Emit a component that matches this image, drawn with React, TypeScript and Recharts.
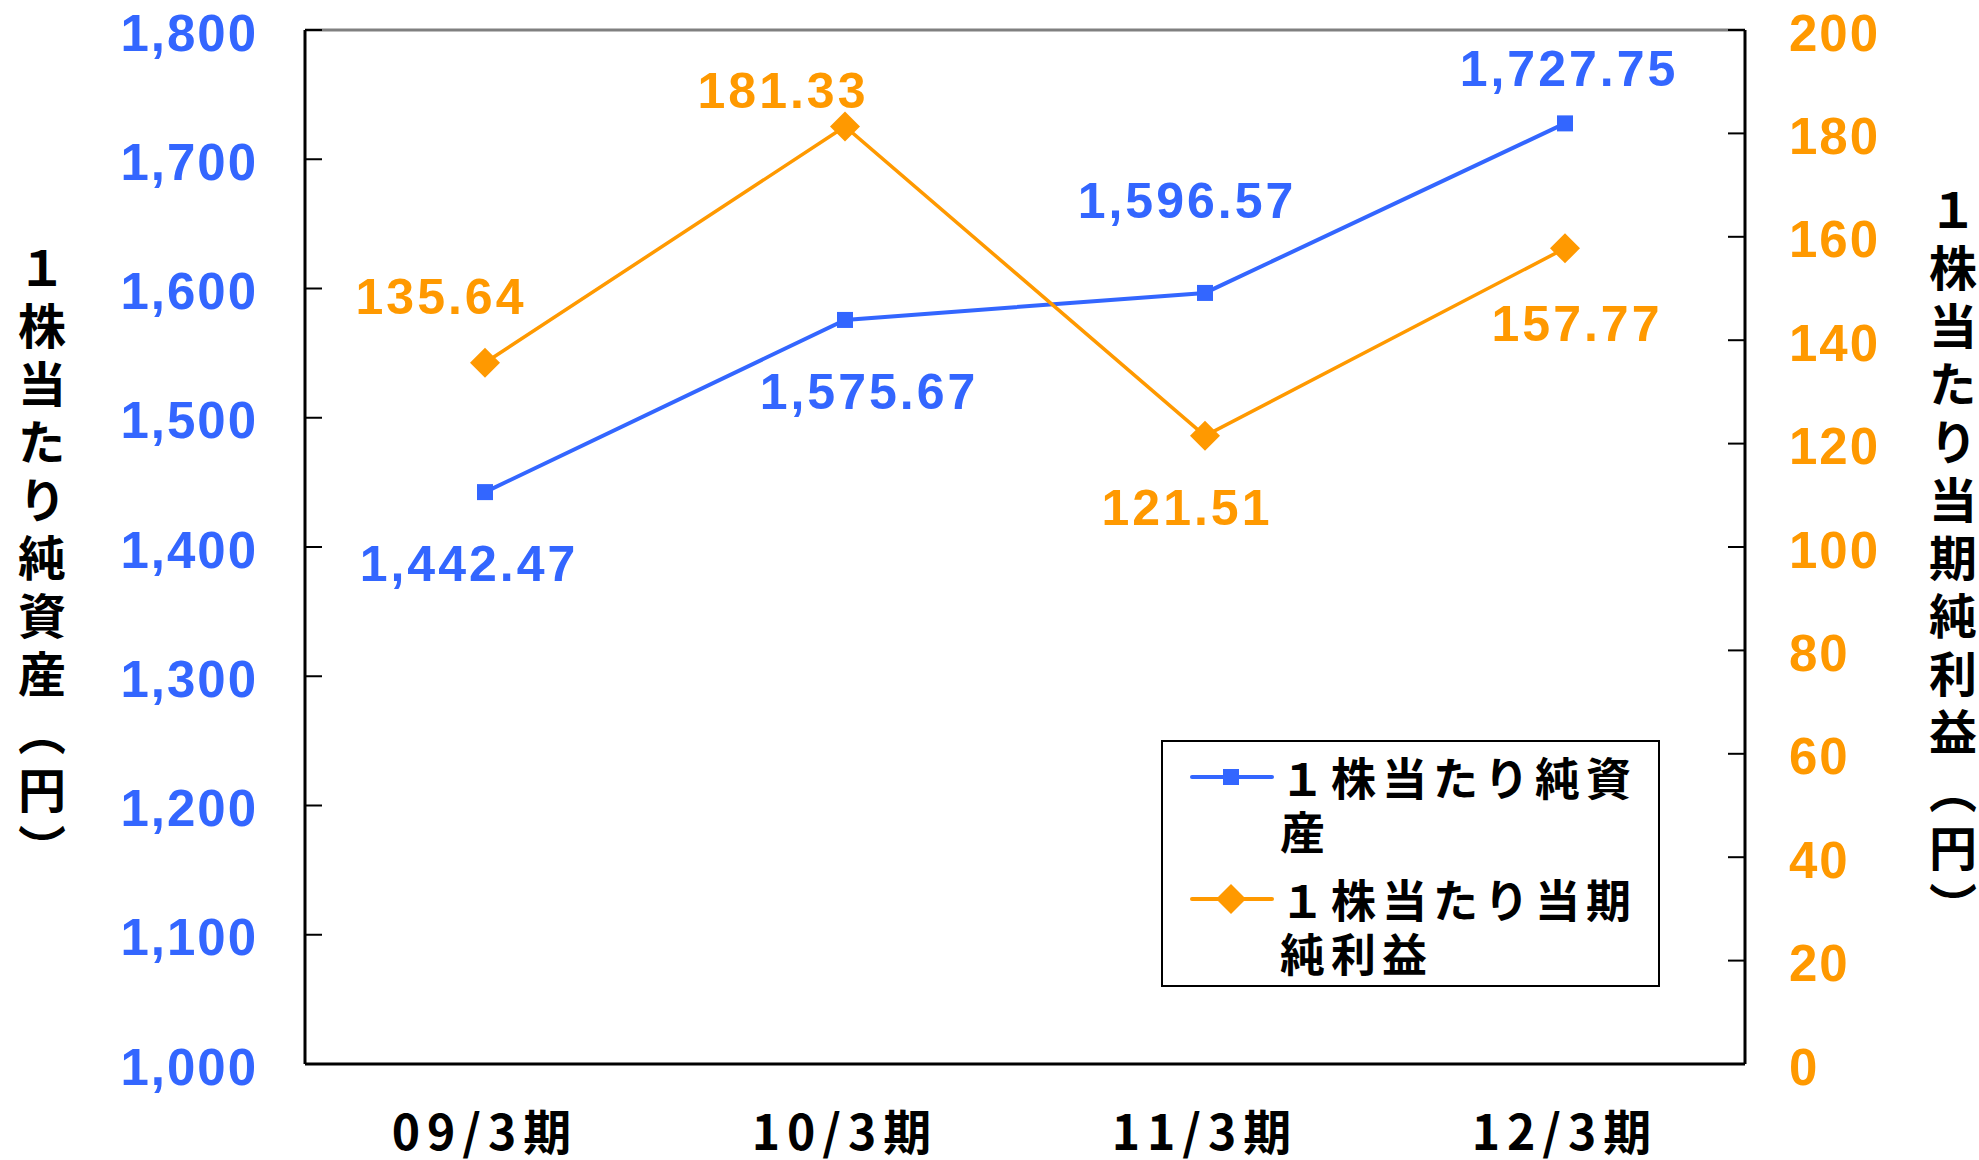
import React from "react";
import { LineChart, Line, XAxis, YAxis, ReferenceLine, LabelList } from "recharts";

// 1株当たり純資産 / 1株当たり当期純利益 — 2軸の折れ線

const periods = ["09/3期", "10/3期", "11/3期", "12/3期"];
const bpsValues = [1442.47, 1575.67, 1596.57, 1727.75];
const epsValues = [135.64, 181.33, 121.51, 157.77];
const leftTicks = [1000, 1100, 1200, 1300, 1400, 1500, 1600, 1700, 1800];
const rightTicks = [0, 20, 40, 60, 80, 100, 120, 140, 160, 180, 200];

const BPS_NAME = "１株当たり純資産";
const EPS_NAME = "１株当たり当期純利益";
const LEFT_TITLE = "１株当たり純資産（円）";
const RIGHT_TITLE = "１株当たり当期純利益（円）";

// ラベル位置（点からのずれ, px）
const bpsLabelOffset = [[-16, 72], [24, 72], [-18, -92], [4, -54]];
const epsLabelOffset = [[-44, -66], [-62, -36], [-18, 72], [12, 76]];

const BLUE = "#3366ff";
const ORANGE = "#ff9900";
const NUM_FONT = "'Liberation Sans', Arial, sans-serif";
const JP_FONT = "'Noto Sans CJK JP', sans-serif";

const data = periods.map((p, i) => ({ period: p, bps: bpsValues[i], eps: epsValues[i] }));

const fmtInt = (v: number) => v.toLocaleString("en-US");
const fmt2 = (v: number) => v.toLocaleString("en-US", { minimumFractionDigits: 2, maximumFractionDigits: 2 });

const LeftTick = ({ x, y, payload }: any) => (
  <g>
    <line x1={x} x2={x + 17} y1={y} y2={y} stroke="#000" strokeWidth={2} />
    <text x={x - 47} y={y + 3} textAnchor="end" dominantBaseline="central" fill={BLUE}
      fontSize={51} fontWeight={700} fontFamily={NUM_FONT} letterSpacing={2}>{fmtInt(payload.value)}</text>
  </g>
);

const RightTick = ({ x, y, payload }: any) => (
  <g>
    <line x1={x - 17} x2={x} y1={y} y2={y} stroke="#000" strokeWidth={2} />
    <text x={x + 44} y={y + 3} textAnchor="start" dominantBaseline="central" fill={ORANGE}
      fontSize={51} fontWeight={700} fontFamily={NUM_FONT} letterSpacing={2}>{fmtInt(payload.value)}</text>
  </g>
);

const BottomTick = ({ x, y, payload }: any) => (
  <text x={x} y={y + 65} textAnchor="middle" dominantBaseline="central" fill="#000"
    fontSize={48} fontWeight={700} fontFamily={JP_FONT} letterSpacing={7}>{payload.value}</text>
);

const makeLabel = (offsets: number[][], color: string) => (p: any) => {
  const [dx, dy] = offsets[p.index] || [0, 0];
  return (
    <text key={p.index} x={p.x + dx} y={p.y + dy} textAnchor="middle" dominantBaseline="central"
      fill={color} fontSize={50} fontWeight={700} fontFamily={NUM_FONT} letterSpacing={3}>
      {fmt2(Number(p.value))}
    </text>
  );
};

const SquareDot = (p: any) => (
  <rect key={p.index} x={p.cx - 8} y={p.cy - 8} width={16} height={16} fill={BLUE} />
);

const DiamondDot = (p: any) => (
  <polygon key={p.index} fill={ORANGE}
    points={`${p.cx},${p.cy - 15} ${p.cx + 15},${p.cy} ${p.cx},${p.cy + 15} ${p.cx - 15},${p.cy}`} />
);

const legendRows = [
  { name: BPS_NAME, color: BLUE, marker: <rect x={33} y={12} width={16} height={16} fill={BLUE} /> },
  { name: EPS_NAME, color: ORANGE, marker: <polygon points="41,5 56,20 41,35 26,20" fill={ORANGE} /> },
];

const LegendBox = () => (
  <div style={{ position: "absolute", left: 1161, top: 740, width: 499, height: 247, border: "2px solid #000", background: "#fff", boxSizing: "border-box", paddingTop: 8 }}>
    {legendRows.map((r, i) => (
      <div key={i} style={{ display: "flex", alignItems: "flex-start", marginBottom: i === 0 ? 14 : 0 }}>
        <svg width={117} height={54} style={{ flex: "none" }}>
          <g transform="translate(27,7)">
            <line x1={2} x2={82} y1={20} y2={20} stroke={r.color} strokeWidth={4} strokeLinecap="round" />
            {r.marker}
          </g>
        </svg>
        <div style={{ width: 370, fontFamily: JP_FONT, fontWeight: 700, fontSize: 45, letterSpacing: 6, lineHeight: "54px", color: "#000" }}>
          {r.name}
        </div>
      </div>
    ))}
  </div>
);

const titleStyle: React.CSSProperties = {
  position: "absolute",
  writingMode: "vertical-rl",
  textOrientation: "upright",
  fontFamily: JP_FONT,
  fontWeight: 700,
  fontSize: 48,
  color: "#000",
  lineHeight: "48px",
  letterSpacing: 10,
};

export default function App() {
  return (
    <div style={{ position: "absolute", left: 0, top: 0, width: 1979, height: 1160, background: "#fff", overflow: "hidden" }}>
      <LineChart width={1979} height={1160} data={data} margin={{ top: 30, right: 0, bottom: 0, left: 0 }}>
        <XAxis dataKey="period" height={96} padding={{ left: 180, right: 180 }} tickSize={0} tickMargin={0}
          tick={<BottomTick />} axisLine={{ stroke: "#000", strokeWidth: 3 }} tickLine={false} interval={0} />
        <YAxis yAxisId="left" orientation="left" width={305} domain={[1000, 1800]} ticks={leftTicks}
          tickSize={0} tickMargin={0} tick={<LeftTick />} tickLine={false} axisLine={{ stroke: "#000", strokeWidth: 3 }} interval={0} />
        <YAxis yAxisId="right" orientation="right" width={234} domain={[0, 200]} ticks={rightTicks}
          tickSize={0} tickMargin={0} tick={<RightTick />} tickLine={false} axisLine={{ stroke: "#000", strokeWidth: 3 }} interval={0} />
        <ReferenceLine yAxisId="left" y={1800} stroke="#808080" strokeWidth={3} />
        <Line yAxisId="left" dataKey="bps" name={BPS_NAME} stroke={BLUE} strokeWidth={4}
          dot={SquareDot} activeDot={false} isAnimationActive={false}>
          <LabelList dataKey="bps" content={makeLabel(bpsLabelOffset, BLUE)} />
        </Line>
        <Line yAxisId="right" dataKey="eps" name={EPS_NAME} stroke={ORANGE} strokeWidth={3.5}
          dot={DiamondDot} activeDot={false} isAnimationActive={false}>
          <LabelList dataKey="eps" content={makeLabel(epsLabelOffset, ORANGE)} />
        </Line>
      </LineChart>
      <LegendBox />
      <div style={{ ...titleStyle, left: 18, top: 244 }}>{LEFT_TITLE}</div>
      <div style={{ ...titleStyle, left: 1929, top: 186 }}>{RIGHT_TITLE}</div>
    </div>
  );
}
